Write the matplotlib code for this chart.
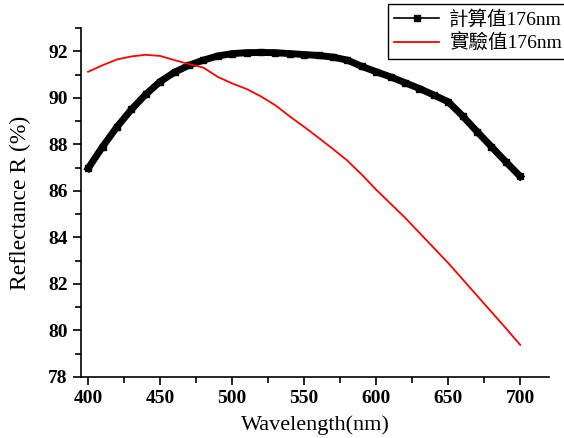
import matplotlib.pyplot as plt
from matplotlib.ticker import MultipleLocator

# wavelength grid (nm)
wavelength = [400, 410, 420, 430, 440, 450, 460, 470, 480, 490, 500,
              510, 520, 530, 540, 550, 560, 570, 580, 590, 600,
              610, 620, 630, 640, 650, 660, 670, 680, 690, 700]

# calculated reflectance (%)
r_calc = [86.97, 87.90, 88.75, 89.50, 90.15, 90.70, 91.10, 91.40, 91.62, 91.80, 91.90,
          91.94, 91.95, 91.94, 91.90, 91.86, 91.82, 91.75, 91.62, 91.35, 91.12,
          90.90, 90.65, 90.40, 90.12, 89.83, 89.22, 88.55, 87.90, 87.25, 86.62]

# measured reflectance (%)
r_meas = [91.12, 91.40, 91.65, 91.78, 91.85, 91.80, 91.62, 91.45, 91.30, 90.90, 90.62,
          90.38, 90.06, 89.68, 89.20, 88.75, 88.28, 87.80, 87.30, 86.70, 86.05,
          85.45, 84.85, 84.20, 83.55, 82.90, 82.20, 81.50, 80.80, 80.10, 79.38]

labels = ['計算值176nm', '實驗值176nm']

serif = ['Liberation Serif', 'Noto Sans CJK TC']

fig = plt.figure(figsize=(5.64, 4.38), dpi=100)
ax = fig.add_axes([0.1436, 0.1393, 0.8298, 0.7967])

ax.plot(wavelength, r_calc, color='black', linewidth=5, marker='s',
        markersize=4.5, label=labels[0])
ax.plot(wavelength, r_meas, color='red', linewidth=1.3, label=labels[1])

ax.set_xlim(395, 720)
ax.set_ylim(78, 93)
ax.xaxis.set_major_locator(MultipleLocator(50))
ax.xaxis.set_minor_locator(MultipleLocator(25))
ax.yaxis.set_major_locator(MultipleLocator(2))
ax.yaxis.set_minor_locator(MultipleLocator(1))

ax.spines['top'].set_visible(False)
ax.spines['right'].set_visible(False)
for s in ('left', 'bottom'):
    ax.spines[s].set_linewidth(1.2)

ax.tick_params(which='major', direction='out', length=6, width=1.2)
ax.tick_params(which='minor', direction='out', length=4, width=1.2)
for lab in ax.get_xticklabels() + ax.get_yticklabels():
    lab.set_family(serif)
    lab.set_fontweight('bold')
    lab.set_fontsize(14)

ax.set_xlabel('Wavelength(nm)', family=serif, fontsize=16, labelpad=6)
ax.set_ylabel('Reflectance R (%)', family=serif, fontsize=17, labelpad=12)

leg = fig.legend(loc='upper right', bbox_to_anchor=(1.006, 0.99),
                 prop={'family': serif, 'size': 14}, fancybox=False,
                 edgecolor='black', framealpha=1, handlelength=2.3,
                 borderpad=0.3, labelspacing=0.25, handletextpad=0.5,
                 borderaxespad=0)
leg.get_frame().set_linewidth(1.0)
leg.get_lines()[0].set_linewidth(1.2)

fig.savefig('out.png', dpi=100)
